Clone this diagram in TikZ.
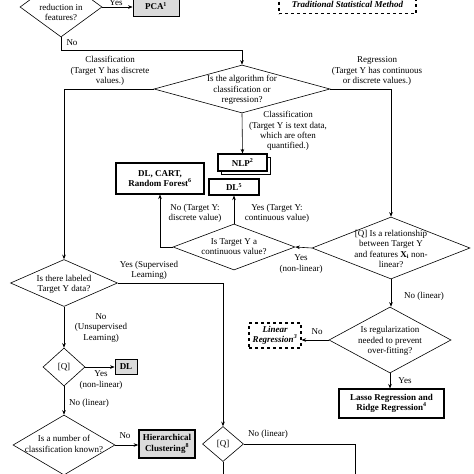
\documentclass[tikz,border=0pt]{standalone}
\usepackage{fontspec}
\setmainfont{Liberation Serif}
\usetikzlibrary{arrows.meta, shapes.geometric, shadows}

\begin{document}
\begin{tikzpicture}[
		x=1pt, y=-1pt,
		every node/.style={font=\fontsize{9}{10.3}\selectfont, align=center, inner sep=0.5pt},
		decision/.style={draw, diamond, inner sep=0pt, line width=0.6pt},
		method/.style={draw, fill=gray!28, line width=0.8pt, inner sep=0pt, font=\fontsize{9}{10.3}\selectfont\bfseries},
		learner/.style={draw, fill=white, line width=1.1pt, inner sep=0pt, font=\fontsize{9}{10.3}\selectfont\bfseries},
		tradition/.style={draw, dashed, line width=1.2pt, inner sep=0pt, font=\fontsize{9}{10.3}\selectfont\bfseries\itshape},
		->, >={Stealth[length=4.5pt, width=3.6pt]}, line width=0.6pt
		]
		\useasboundingbox (0,0) rectangle (474,474);
		\clip (0,0) rectangle (474,474);
		
		% Top row
		\node[decision, minimum width=82pt, minimum height=60pt] (dimred) at (61,7) {};
		\node (dimred-t) at (61,12.5) {reduction in\\features?};
		\node[method, minimum width=46pt, minimum height=20pt] (pca) at (156,6) {PCA\textsuperscript{1}};
		\node (yes-pca) at (116,3) {Yes};
		\node[tradition, minimum width=137pt, minimum height=19pt] (legend) at (347.5,4) {Traditional Statistical Method};
		
		% Classification or regression
		\node[decision, minimum width=176pt, minimum height=48pt] (alg) at (242,89) {};
		\node (alg-t) at (242,90) {Is the algorithm for\\classification or\\regression?};
		\node (no-dim) at (72,43) {No};
		\node (cls-lbl) at (110,71) {Classification\\(Target Y has discrete\\values.)};
		\node (reg-lbl) at (377,71) {Regression\\(Target Y has continuous\\or discrete values.)};
		\node (txt-lbl) at (288,131) {Classification\\(Target Y is text data,\\which are often\\quantified.)};
		
		% Boxes in the middle
		\node[learner, fill=white, minimum width=49pt, minimum height=17pt,
			copy shadow={shadow xshift=3pt, shadow yshift=-3pt, fill=white, draw, line width=0.8pt}] (nlp) at (242.5,162.5) {NLP\textsuperscript{2}};
		\node[learner, minimum width=50pt, minimum height=16pt] (dl5) at (234,187) {DL\textsuperscript{5}};
		\node[learner, minimum width=88pt, minimum height=31pt] (dcr) at (160,178.5) {DL, CART,\\Random Forest\textsuperscript{6}};
		
		% Continuous target
		\node[decision, minimum width=122pt, minimum height=46pt] (cont) at (234,247) {};
		\node (cont-t) at (234,246.5) {Is Target Y a\\continuous value?};
		\node (yes-cont) at (277,213) {Yes (Target Y:\\continuous value)};
		\node (no-cont) at (195,213) {No (Target Y:\\discrete value)};
		
		% Regression branch
		\node[decision, minimum width=158pt, minimum height=62pt] (relq) at (391,248) {};
		\node (relq-t) at (391,249) {[Q] Is a relationship\\between Target Y\\and features \textbf{X\textsubscript{i}} non-\\linear?};
		\node (yes-rel) at (301,264) {Yes\\(non-linear)};
		\node (no-rel) at (424,296) {No (linear)};
		\node[decision, minimum width=122pt, minimum height=66pt] (regu) at (390,340) {};
		\node (regu-t) at (390,341) {Is regularization\\needed to prevent\\over-fitting?};
		\node[tradition, minimum width=52pt, minimum height=25pt] (linreg) at (275,335.5) {Linear\\Regression\textsuperscript{3}};
		\node (no-regu) at (317,332) {No};
		\node (yes-regu) at (405,381) {Yes};
		\node[learner, minimum width=105pt, minimum height=29pt] (lasso) at (391.5,403.5) {Lasso Regression and\\Ridge Regression\textsuperscript{4}};
		
		% Classification branch
		\node[decision, minimum width=107pt, minimum height=47pt] (labeled) at (64,283) {};
		\node (labeled-t) at (64,284) {Is there labeled\\Target Y data?};
		\node (yes-sup) at (149,270) {Yes (Supervised\\Learning)};
		\node (no-sup) at (101,328) {No\\(Unsupervised\\Learning)};
		\node[decision, minimum width=42pt, minimum height=38pt] (qun) at (64,367) {};
		\node (qun-t) at (64,367) {[Q]};
		\node[method, minimum width=22pt, minimum height=15pt] (dlun) at (126,366.5) {DL};
		\node (yes-un) at (101,380) {Yes\\(non-linear)};
		\node (no-un) at (89,403) {No (linear)};
		\node[decision, minimum width=102pt, minimum height=60pt] (num) at (64,445) {};
		\node (num-t) at (64,444) {Is a number of\\classification known?};
		\node[method, line width=1.6pt, minimum width=56pt, minimum height=28pt] (hier) at (167,444) {Hierarchical\\Clustering\textsuperscript{8}};
		\node (no-num) at (125,436) {No};
		\node[decision, minimum width=41pt, minimum height=35pt] (qsup) at (223,444) {};
		\node (qsup-t) at (223,444) {[Q]};
		\node (no-qsup) at (268,434) {No (linear)};
		\coordinate (qsup-lin) at (355,480);
		\coordinate (qsup-non) at (223,480);
		
		% Connectors
		\draw (dimred.east) -- (dimred.east -| pca.west);
		\draw (dimred.south) -- (61,50) -| (alg.north);
		\draw (alg.west) -| (labeled.north);
		\draw (alg.east) -| (relq.north);
		\draw (alg.south) -- (nlp.north);
		\draw (cont.north) -- (dl5.south);
		\draw (cont.west) -| (dcr.south);
		\draw (relq.west) -- (cont.east);
		\draw (relq.south) -- (relq.south |- regu.north);
		\draw (regu.west) -- (regu.west -| linreg.east);
		\draw (regu.south) -- (regu.south |- lasso.north);
		\draw (labeled.east) -| (qsup.north);
		\draw (labeled.south) -- (qun.north);
		\draw (qun.east) -- (qun.east -| dlun.west);
		\draw (qun.south) -- (num.north);
		\draw (num.east) -- (num.east -| hier.west);
		\draw[-] (qsup.east) -| (qsup-lin);
		\draw[-] (qsup.south) -- (qsup-non);
		
	\end{tikzpicture}
\end{document}
